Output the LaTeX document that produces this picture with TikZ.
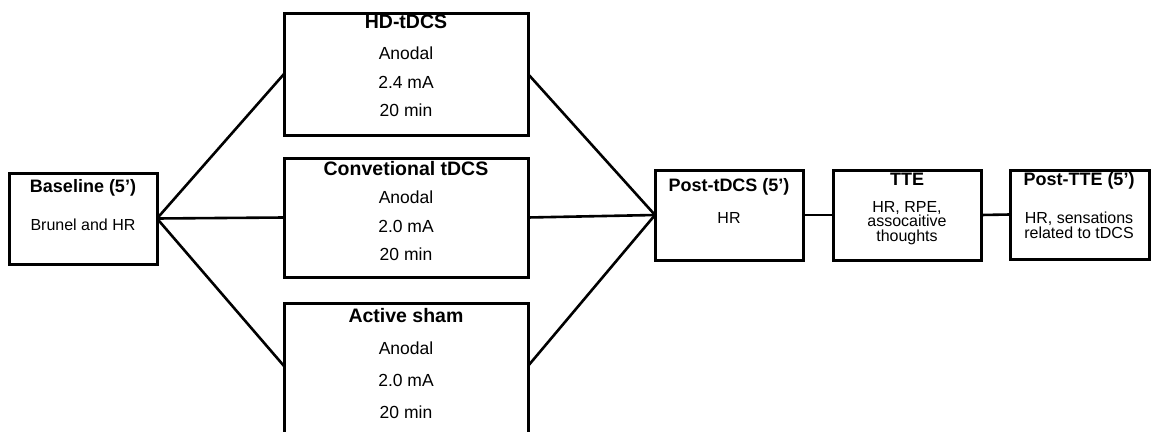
\documentclass[tikz,border=0pt]{standalone}
\usepackage{fontspec}
\setmainfont{Liberation Sans}
\begin{document}
\begin{tikzpicture}[x=1pt,y=-1pt,
  box/.style={draw=black, line width=3pt, fill=white, inner sep=0pt, outer sep=0pt, anchor=north west},
  bigtitle/.style={font=\bfseries\fontsize{19.5}{21}\selectfont, inner sep=0pt},
  bigbody/.style={font=\fontsize{17.5}{19}\selectfont, inner sep=0pt},
  smalltitle/.style={font=\bfseries\fontsize{18}{20}\selectfont, inner sep=0pt},
  smallbody/.style={font=\fontsize{16}{14.7}\selectfont, inner sep=0pt, align=center},
  link/.style={draw=black, line width=2.6pt}
]
\useasboundingbox (0,0) rectangle (1151,431);
\clip (0,0) rectangle (1151,431);

% boxes
\node[box, minimum width=148, minimum height=91] (base) at (9,173) {};
\node[box, minimum width=244, minimum height=122] (hd) at (284,13) {};
\node[box, minimum width=244, minimum height=119] (conv) at (284,158) {};
\node[box, minimum width=244, minimum height=140] (sham) at (284,303) {};
\node[box, minimum width=148, minimum height=90] (post) at (655,170) {};
\node[box, minimum width=148, minimum height=90] (tte) at (833,170) {};
\node[box, minimum width=139, minimum height=89] (ptte) at (1010,170) {};

\coordinate (shamW) at (284,366);
\coordinate (shamE) at (528,366);

% connectors
\draw[link] (base.east) -- (hd.west);
\draw[link] (base.east) -- (conv.west);
\draw[link] (base.east) -- (shamW);
\draw[link] (hd.east) -- (post.west);
\draw[link] (conv.east) -- (post.west);
\draw[link] (shamE) -- (post.west);
\draw[link] (post.east) -- (tte.west);
\draw[link] (tte.east) -- (ptte.west);

% redraw box borders over connector ends
\foreach \n in {base,hd,conv,sham,post,tte,ptte}{
  \draw[line width=3pt] (\n.north west) rectangle (\n.south east);
}

% texts
\node[smalltitle] (baseT) at (83,188) {Baseline (5’)};
\node[smallbody] (baseB) at (83,225) {Brunel and HR};

\node[bigtitle] (hdT) at (406,22) {HD-tDCS};
\node[bigbody] (hd1) at (406,53) {Anodal};
\node[bigbody] (hd2) at (406,82) {2.4 mA};
\node[bigbody] (hd3) at (406,110) {20 min};

\node[bigtitle] (convT) at (406,169) {Convetional tDCS};
\node[bigbody] (conv1) at (406,197) {Anodal};
\node[bigbody] (conv2) at (406,226) {2.0 mA};
\node[bigbody] (conv3) at (406,254) {20 min};

\node[bigtitle] (shamT) at (406,316) {Active sham};
\node[bigbody] (sham1) at (406,348) {Anodal};
\node[bigbody] (sham2) at (406,380) {2.0 mA};
\node[bigbody] (sham3) at (406,412) {20 min};

\node[smalltitle] (postT) at (729,187) {Post-tDCS (5’)};
\node[smallbody] (postB) at (729,218) {HR};

\node[smalltitle] (tteT) at (907,179) {TTE};
\node[smallbody] (tteB) at (907,223) {HR, RPE,\\assocaitive\\thoughts};

\node[smalltitle] (ptteT) at (1079,181) {Post-TTE (5’)};
\node[smallbody] (ptteB) at (1079,225) {HR, sensations\\related to tDCS};
\end{tikzpicture}
\end{document}
